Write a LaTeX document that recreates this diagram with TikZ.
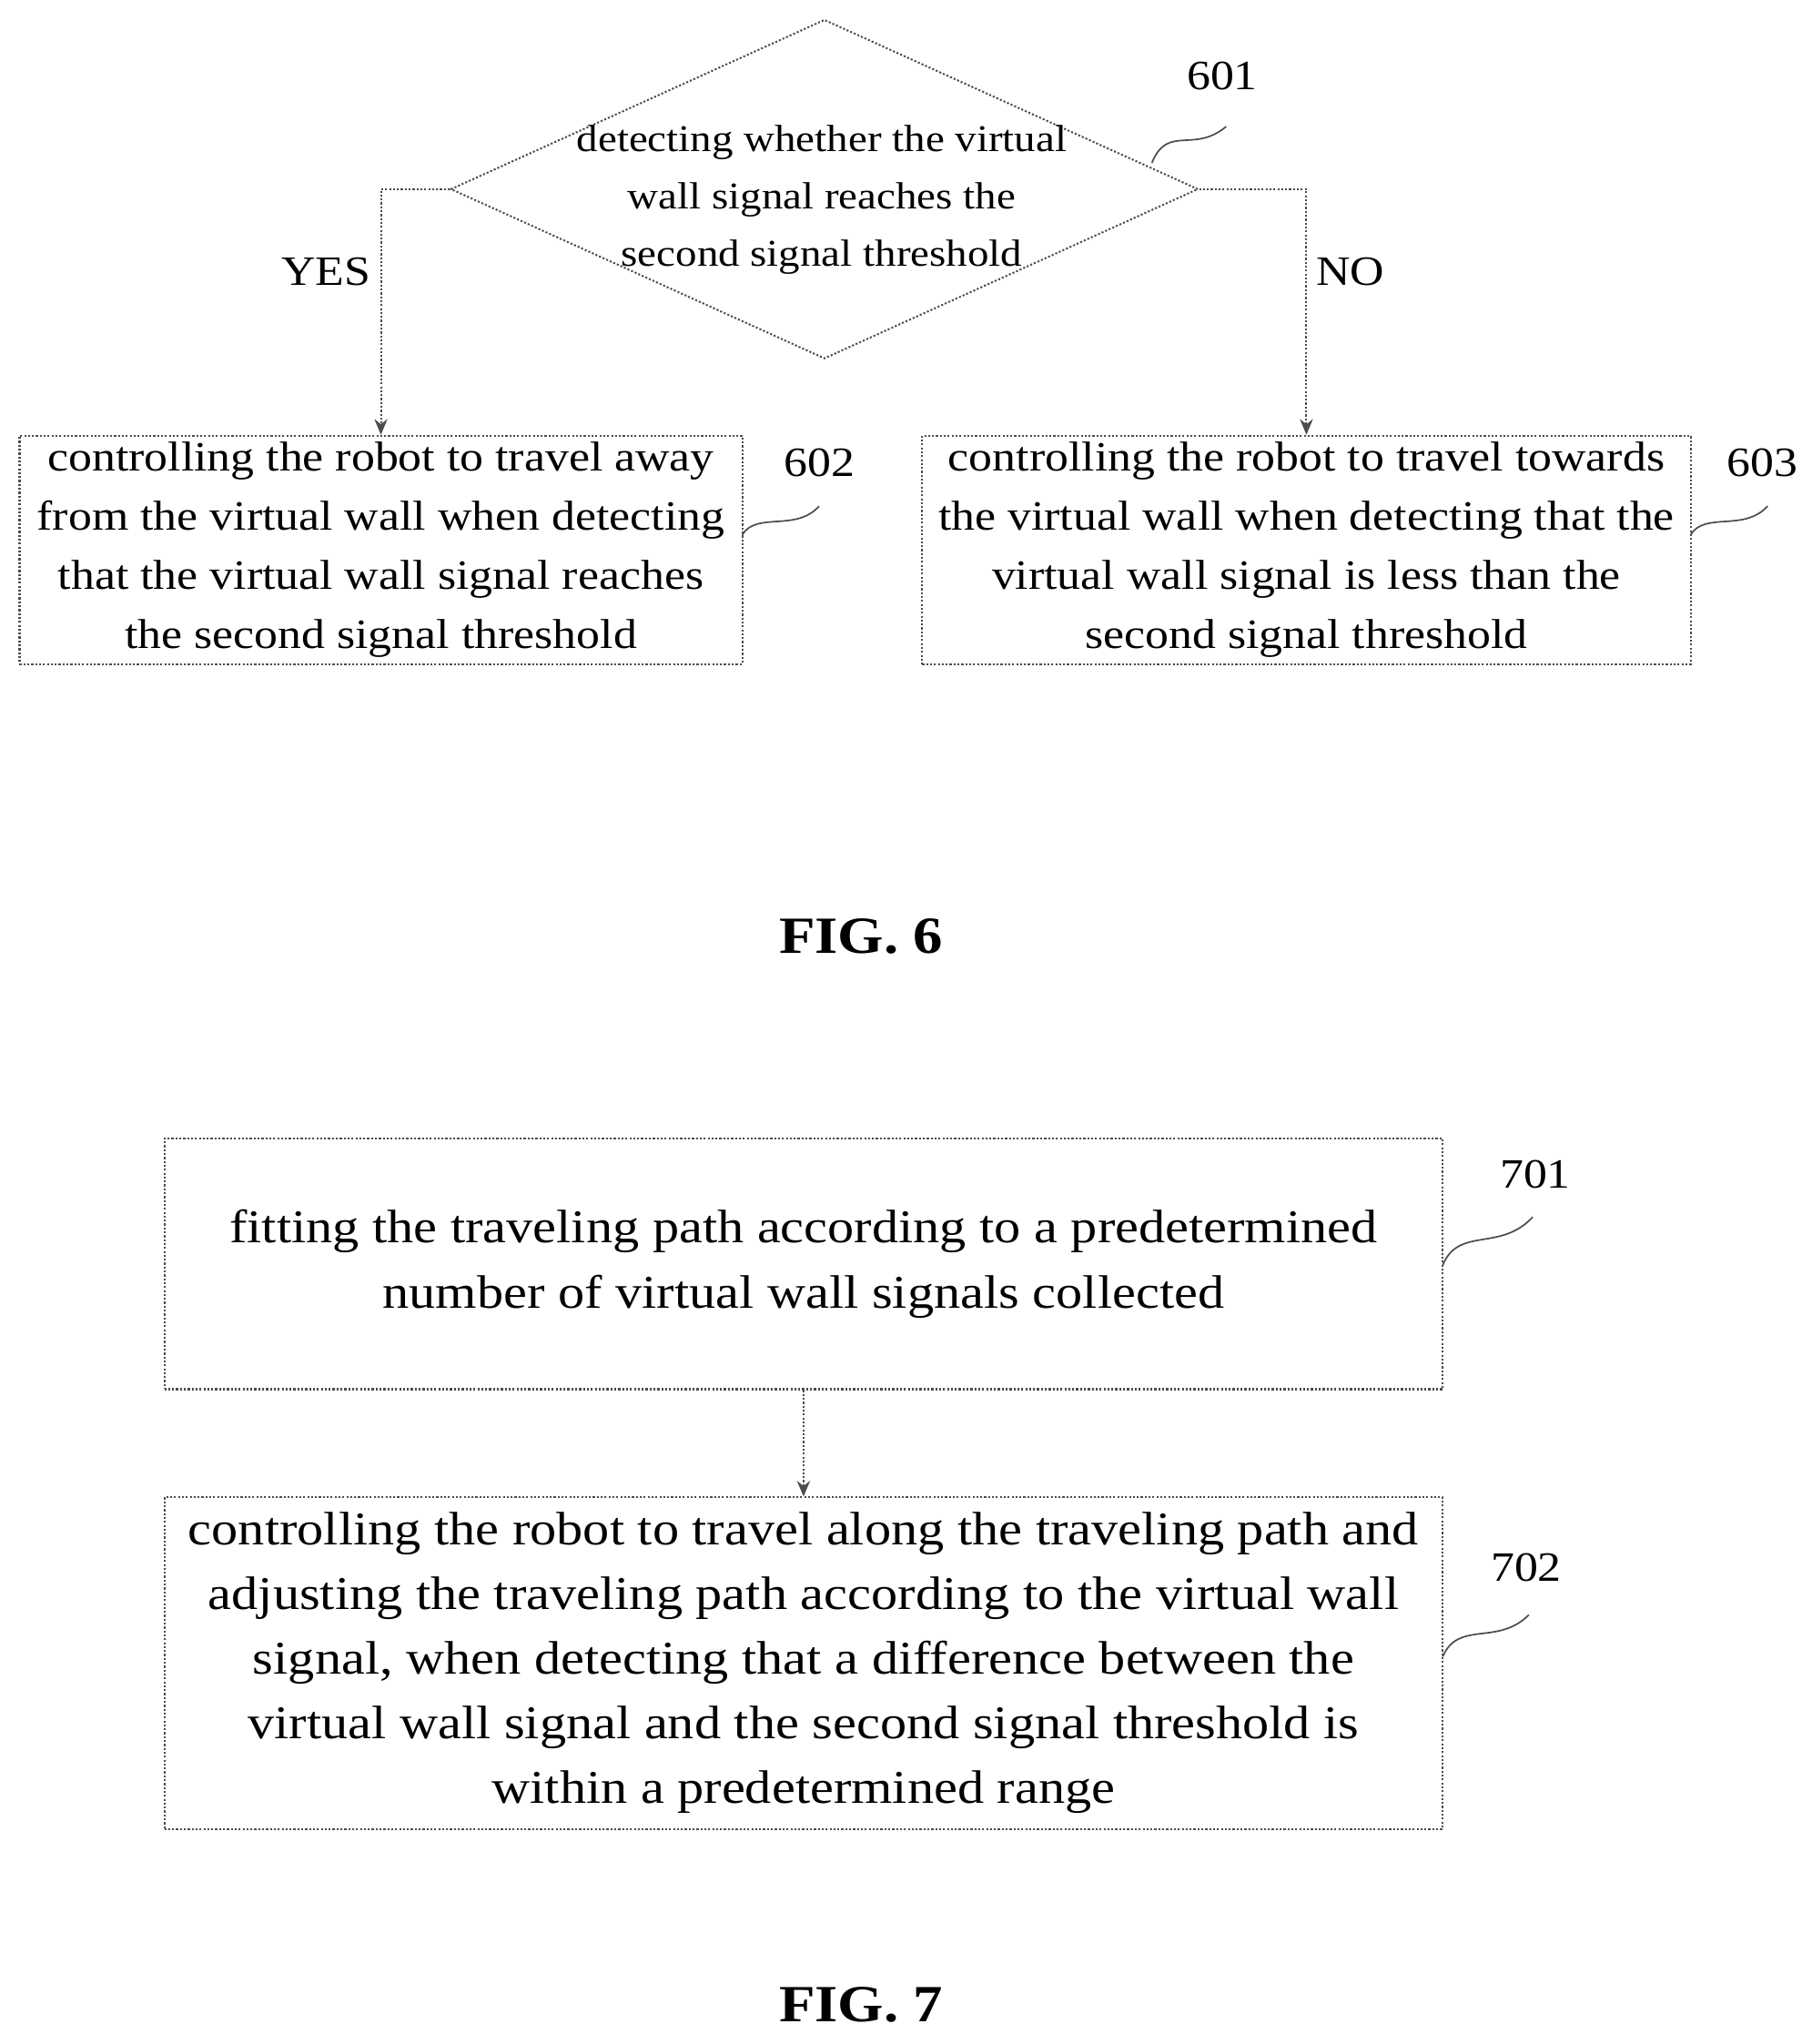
\documentclass[tikz,border=0pt]{standalone}
\usepackage{fontspec}
\setmainfont[FakeStretch=1.13]{Liberation Serif}
\usetikzlibrary{shapes.geometric,arrows.meta}
\begin{document}
\begin{tikzpicture}[x=1pt, y=-1pt, line width=1.4pt, gray!60!black]
\useasboundingbox (0,0) rectangle (1389,1567);
\tikzstyle{box} = [draw, dash pattern=on 1.5pt off 1.5pt, inner sep=0pt, text=black, align=center]
\tikzstyle{flow} = [draw, dash pattern=on 1.5pt off 1.5pt, -{Stealth[length=12pt,width=10pt]}]
\tikzstyle{tag} = [text=black, font=\fontsize{32}{36}\selectfont]
\tikzstyle{wave} = [draw, line width=1.2pt]
% FIG. 6
\node[box, diamond, minimum width=573pt, minimum height=260pt, aspect=2.2] (d601) at (632,145) {};
\node[text=black, align=center, font=\fontsize{29}{44}\selectfont] at (630,153) {detecting whether the virtual\\wall signal reaches the\\second signal threshold};
\node[box, minimum width=554pt, minimum height=175pt, font=\fontsize{32}{45.5}\selectfont] (b602) at (292,421.5)
  {controlling the robot to travel away\\from the virtual wall when detecting\\that the virtual wall signal reaches\\the second signal threshold};
\node[box, minimum width=589pt, minimum height=175pt, font=\fontsize{32}{45.5}\selectfont] (b603) at (1001.5,421.5)
  {controlling the robot to travel towards\\the virtual wall when detecting that the\\virtual wall signal is less than the\\second signal threshold};
\draw[flow] (d601.west) -| (b602.north);
\draw[flow] (d601.east) -| (b603.north);
\node[tag] (yes) at (250,208) {YES};
\node[tag] (no) at (1035,208) {NO};
\node[tag] (l601) at (937,58) {601};
\node[tag] (l602) at (628,355) {602};
\node[tag] (l603) at (1351,355) {603};
\draw[wave] (883,125) .. controls (895,95) and (915,118) .. (940,97);
\draw[wave] (569,410) .. controls (580,392) and (610,408) .. (628,388);
\draw[wave] (1296,410) .. controls (1307,392) and (1337,408) .. (1355,388);
\node[text=black, font=\fontsize{40}{44}\bfseries] (f6) at (660,718) {FIG. 6};
% FIG. 7
\node[box, minimum width=980pt, minimum height=192pt, font=\fontsize{36}{50}\selectfont] (b701) at (616,969)
  {fitting the traveling path according to a predetermined\\number of virtual wall signals collected};
\node[box, minimum width=980pt, minimum height=254pt, font=\fontsize{36}{49.5}\selectfont] (b702) at (616,1275)
  {controlling the robot to travel along the traveling path and\\adjusting the traveling path according to the virtual wall\\signal, when detecting that a difference between the\\virtual wall signal and the second signal threshold is\\within a predetermined range};
\draw[flow] (b701) -- (b702);
\node[tag] (l701) at (1177,900) {701};
\node[tag] (l702) at (1170,1202) {702};
\draw[wave] (1106,970) .. controls (1118,940) and (1150,960) .. (1175,933);
\draw[wave] (1106,1270) .. controls (1118,1242) and (1148,1262) .. (1172,1238);
\node[text=black, font=\fontsize{40}{44}\bfseries] (f7) at (660,1537) {FIG. 7};
\end{tikzpicture}
\end{document}
